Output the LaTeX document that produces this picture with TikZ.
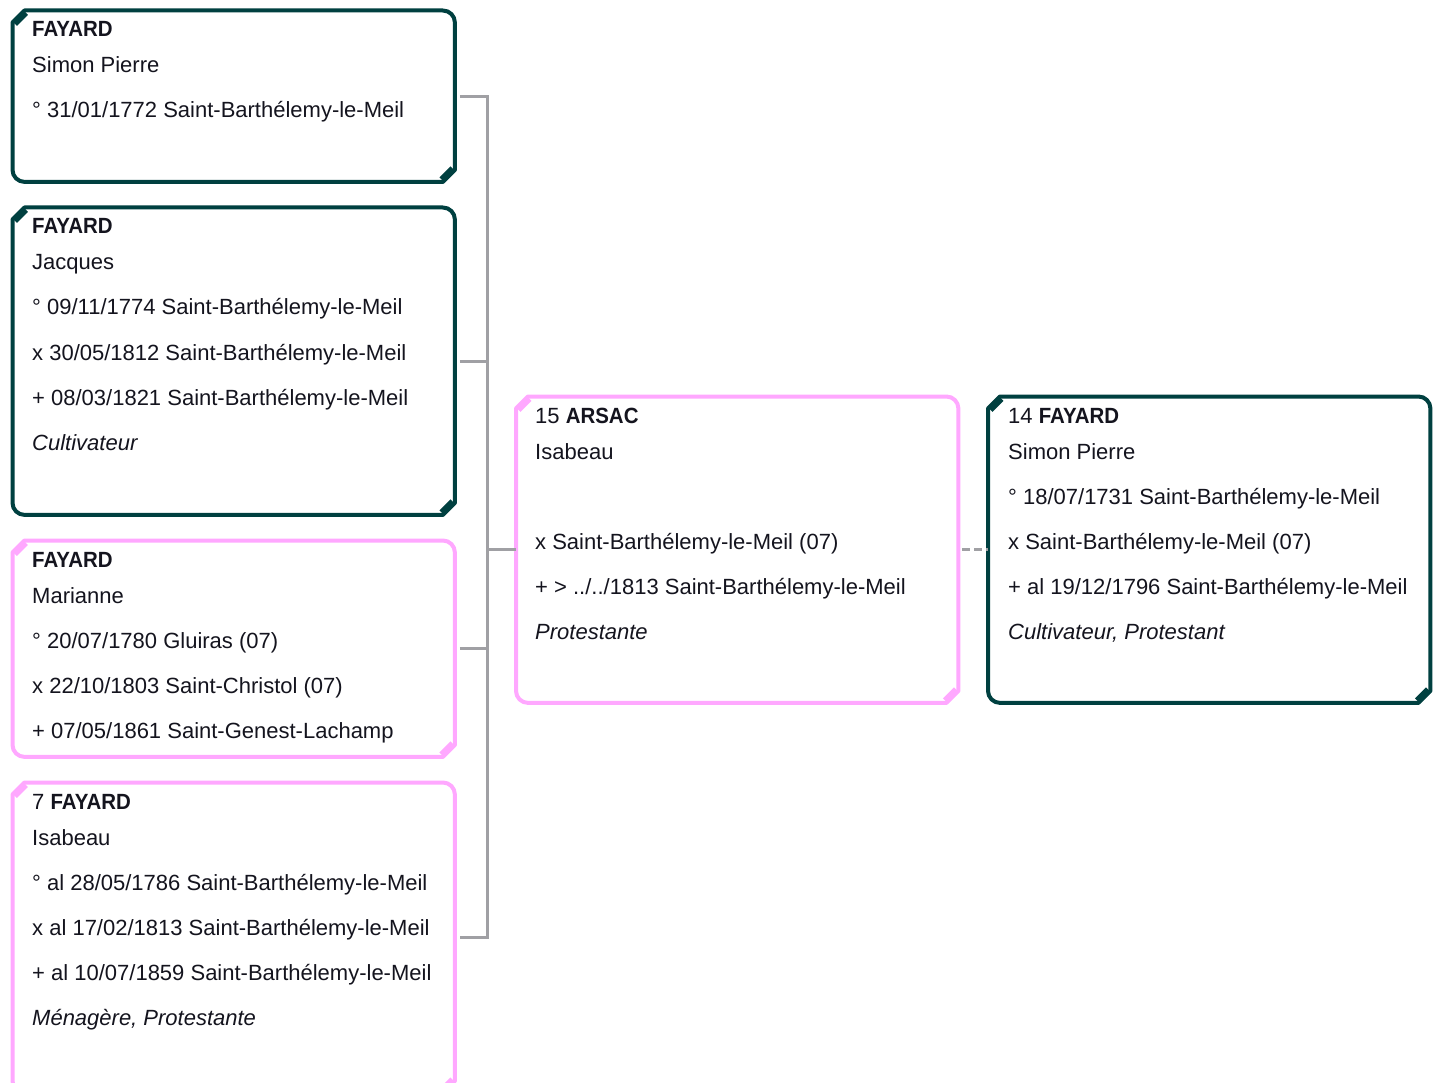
\documentclass[tikz,border=0pt]{standalone}
\usepackage{fontspec}
\setmainfont{Liberation Sans}[BoldFeatures={FakeStretch=0.93}]
\definecolor{teal}{RGB}{0,64,64}
\definecolor{pinkb}{RGB}{255,168,255}
\definecolor{conngray}{RGB}{160,160,164}
\definecolor{txt}{RGB}{20,20,30}
\tikzset{
  card/.style={draw=none, inner sep=0pt, anchor=north west, minimum width=442pt},
  ln/.style={anchor=base west, inner sep=0pt, text=txt, font=\fontsize{22}{26}\selectfont},
  conn/.style={draw=conngray, line width=3pt},
  dconn/.style={draw=conngray, line width=2.5pt, dash pattern=on 8pt off 4pt},
}
% border with chamfered top-left/bottom-right and rounded top-right/bottom-left
\newcommand{\cardborder}[2]{%
  \draw[#2, line width=4pt, line join=round]
    ([yshift=-12pt]#1.north west) -- ([xshift=12pt]#1.north west)
    -- ([xshift=-12pt]#1.north east) arc[start angle=90, end angle=0, radius=12pt]
    -- ([yshift=12pt]#1.south east) -- ([xshift=-12pt]#1.south east)
    -- ([xshift=12pt]#1.south west) arc[start angle=270, end angle=180, radius=12pt]
    -- cycle;
  \draw[#2, line width=7pt]
    ([xshift=2pt,yshift=-13pt]#1.north west) -- ([xshift=13pt,yshift=-2pt]#1.north west);
  \draw[#2, line width=7pt]
    ([xshift=-2pt,yshift=13pt]#1.south east) -- ([xshift=-13pt,yshift=2pt]#1.south east);
}
\begin{document}
\begin{tikzpicture}[x=1pt, y=-1pt]
\useasboundingbox (0,0) rectangle (1440,1083);
\clip (0,0) rectangle (1440,1083);
\fill[white] (0,0) rectangle (1440,1083);

% boxes
\node[card, minimum height=171pt] (b1) at (12.5,10.5) {};
\node[card, minimum height=307pt] (b2) at (12.5,207.5) {};
\node[card, minimum height=216pt] (b3) at (12.5,540.5) {};
\node[card, minimum height=310pt] (b4) at (12.5,782.5) {};
\node[card, minimum height=306pt] (c) at (516,396.5) {};
\node[card, minimum height=306pt] (r) at (988,396.5) {};

\cardborder{b1}{teal}
\cardborder{b2}{teal}
\cardborder{b3}{pinkb}
\cardborder{b4}{pinkb}
\cardborder{c}{pinkb}
\cardborder{r}{teal}

% connectors
\coordinate (jx) at (487,0);
\draw[conn] ([xshift=5pt]b1.east) -- (b1.east -| jx) -- (b4.east -| jx) -- ([xshift=5pt]b4.east);
\draw[conn] ([xshift=5pt]b2.east) -- (b2.east -| jx);
\draw[conn] ([xshift=5pt]b3.east) -- (b3.east -| jx);
\draw[conn] (c.west -| jx) -- (c.west);
\draw[dconn] ([xshift=4pt]c.east) -- (r.west);

% texts box 1
\node[ln] (t11) at (32,37) {\textbf{FAYARD}};
\node[ln] (t12) at (32,73) {Simon Pierre};
\node[ln] (t13) at (32,118) {° 31/01/1772 Saint-Barthélemy-le-Meil};
% box 2
\node[ln] (t21) at (32,234) {\textbf{FAYARD}};
\node[ln] (t22) at (32,270) {Jacques};
\node[ln] (t23) at (32,315) {° 09/11/1774 Saint-Barthélemy-le-Meil};
\node[ln] (t24) at (32,360) {x 30/05/1812 Saint-Barthélemy-le-Meil};
\node[ln] (t25) at (32,405) {+ 08/03/1821 Saint-Barthélemy-le-Meil};
\node[ln] (t26) at (32,450) {\itshape Cultivateur};
% box 3
\node[ln] (t31) at (32,567) {\textbf{FAYARD}};
\node[ln] (t32) at (32,603) {Marianne};
\node[ln] (t33) at (32,648) {° 20/07/1780 Gluiras (07)};
\node[ln] (t34) at (32,693) {x 22/10/1803 Saint-Christol (07)};
\node[ln] (t35) at (32,738) {+ 07/05/1861 Saint-Genest-Lachamp};
% box 4
\node[ln] (t41) at (32,809) {7 \textbf{FAYARD}};
\node[ln] (t42) at (32,845) {Isabeau};
\node[ln] (t43) at (32,890) {° al 28/05/1786 Saint-Barthélemy-le-Meil};
\node[ln] (t44) at (32,935) {x al 17/02/1813 Saint-Barthélemy-le-Meil};
\node[ln] (t45) at (32,980) {+ al 10/07/1859 Saint-Barthélemy-le-Meil};
\node[ln] (t46) at (32,1025) {\itshape Ménagère, Protestante};
% center
\node[ln] (c1) at (535,423) {15 \textbf{ARSAC}};
\node[ln] (c2) at (535,459) {Isabeau};
\node[ln] (c4) at (535,549) {x Saint-Barthélemy-le-Meil (07)};
\node[ln] (c5) at (535,594) {+ > ../../1813 Saint-Barthélemy-le-Meil};
\node[ln] (c6) at (535,639) {\itshape Protestante};
% right
\node[ln] (r1) at (1008,423) {14 \textbf{FAYARD}};
\node[ln] (r2) at (1008,459) {Simon Pierre};
\node[ln] (r3) at (1008,504) {° 18/07/1731 Saint-Barthélemy-le-Meil};
\node[ln] (r4) at (1008,549) {x Saint-Barthélemy-le-Meil (07)};
\node[ln] (r5) at (1008,594) {+ al 19/12/1796 Saint-Barthélemy-le-Meil};
\node[ln] (r6) at (1008,639) {\itshape Cultivateur, Protestant};
\end{tikzpicture}
\end{document}
